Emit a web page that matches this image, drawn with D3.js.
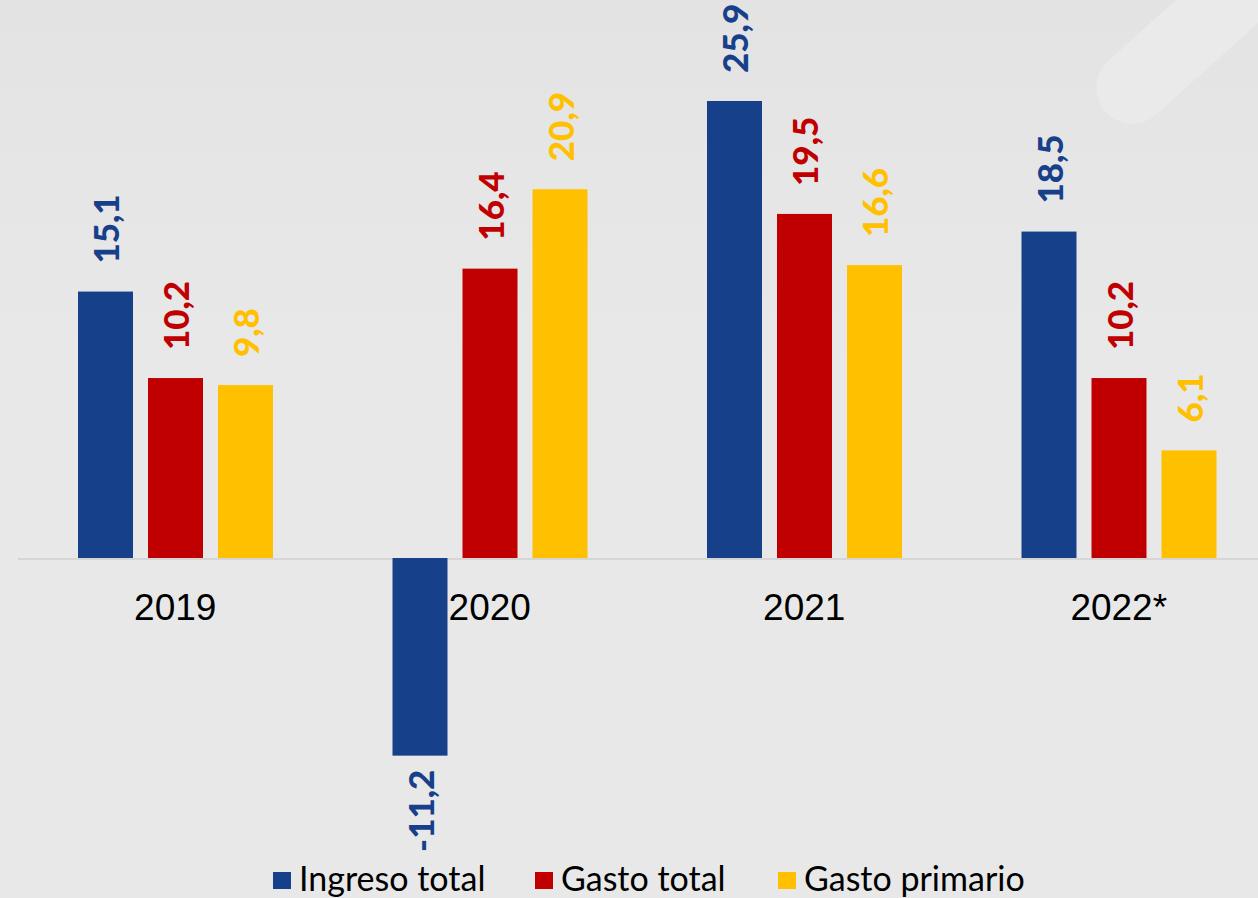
<!DOCTYPE html>
<html>
  <head>
    <meta charset="utf-8">
    <title>Ingreso y gasto</title>
    <style>
      body { margin: 0; background: #e7e7e7; }
      svg { display: block; }
      .val { font-family: Lato, "Open Sans", sans-serif; font-weight: 900; font-size: 35px; }
      .cat { font-family: "Liberation Sans", Arial, sans-serif; font-size: 37px; fill: #000; }
      .leg { font-family: Lato, "Open Sans", sans-serif; font-size: 34px; fill: #000; }
    </style>
  </head>
  <body>
    <div id="chart"></div>
    <script src="https://cdn.jsdelivr.net/npm/d3@7"></script>
    <script>

    // data
    var years = ['2019', '2020', '2021', '2022*']
    var series = ['Ingreso total', 'Gasto total', 'Gasto primario']
    var ingreso = [15.1, -11.2, 25.9, 18.5]
    var gastoTotal = [10.2, 16.4, 19.5, 10.2]
    var gastoPrimario = [9.8, 20.9, 16.6, 6.1]
    var colors = ['#17408b', '#c00000', '#ffc000']

    var width = 1258,
        height = 898

    var rows = []
    years.forEach(function(yr, i) {
      rows.push({ year: yr, s: series[0], v: ingreso[i], c: 0 })
      rows.push({ year: yr, s: series[1], v: gastoTotal[i], c: 1 })
      rows.push({ year: yr, s: series[2], v: gastoPrimario[i], c: 2 })
    })

    var svg = d3.select('#chart')
      .append('svg')
      .attr('width', width)
      .attr('height', height)

    // faint background texture like the slide
    var defs = svg.append('defs')
    var grad = defs.append('linearGradient').attr('id', 'bg').attr('x1', 0).attr('y1', 0).attr('x2', 0).attr('y2', 1)
    grad.append('stop').attr('offset', '0%').attr('stop-color', '#e3e3e3')
    grad.append('stop').attr('offset', '20%').attr('stop-color', '#e6e6e6')
    grad.append('stop').attr('offset', '40%').attr('stop-color', '#e8e8e8')
    svg.append('rect').attr('width', width).attr('height', height).attr('fill', 'url(#bg)')
    svg.append('rect')
      .attr('x', 1155).attr('y', -80).attr('width', 72).attr('height', 230)
      .attr('rx', 36)
      .attr('transform', 'rotate(48,1191,35)')
      .attr('fill', '#eaeaeb')

    var x0 = d3.scaleBand().domain(years).range([18, 1276])
    var x1 = d3.scaleBand().domain(series).range([60, 255]).paddingInner(0.2143)
    var y = d3.scaleLinear().domain([-15, 30]).range([822.7, 28.65])

    // zero line
    svg.append('line')
      .attr('x1', 18).attr('x2', width)
      .attr('y1', y(0) + 1).attr('y2', y(0) + 1)
      .attr('stroke', '#d6d6d6').attr('stroke-width', 2)

    var g = svg.append('g')

    g.selectAll('rect.bar').data(rows).enter()
      .append('rect')
      .attr('class', 'bar')
      .attr('x', function(d) { return x0(d.year) + x1(d.s) })
      .attr('width', x1.bandwidth())
      .attr('y', function(d) { return y(Math.max(0, d.v)) })
      .attr('height', function(d) { return Math.abs(y(d.v) - y(0)) })
      .attr('fill', function(d) { return colors[d.c] })

    g.selectAll('text.val').data(rows).enter()
      .append('text')
      .attr('class', 'val')
      .attr('fill', function(d) { return colors[d.c] })
      .attr('text-anchor', function(d) { return d.v < 0 ? 'end' : 'start' })
      .attr('dy', '0.36em')
      .attr('transform', function(d) {
        var cx = x0(d.year) + x1(d.s) + x1.bandwidth() / 2 + 1
        var yy = d.v < 0 ? y(d.v) + 14 : y(d.v) - 28
        return 'translate(' + cx + ',' + yy + ') rotate(-90)'
      })
      .text(function(d) { return String(d.v).replace('.', ',') })

    // category labels
    svg.selectAll('text.cat').data(years).enter()
      .append('text')
      .attr('class', 'cat')
      .attr('text-anchor', 'middle')
      .attr('x', function(d) { return x0(d) + x0.bandwidth() / 2 })
      .attr('y', 620)
      .text(function(d) { return d })

    // legend
    var legX = [273, 535, 778]
    var leg = svg.selectAll('g.leg').data(series).enter()
      .append('g')
      .attr('transform', function(d, i) { return 'translate(' + legX[i] + ',872)' })
    leg.append('rect')
      .attr('width', 18).attr('height', 17)
      .attr('fill', function(d, i) { return colors[i] })
    leg.append('text')
      .attr('class', 'leg')
      .attr('x', 26).attr('y', 19)
      .text(function(d) { return d })

    </script>
  </body>
</html>
